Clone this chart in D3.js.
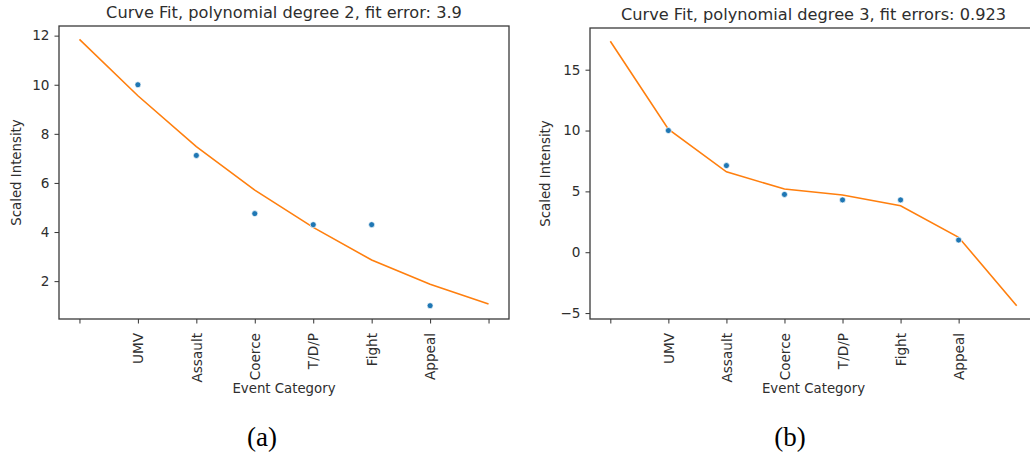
<!DOCTYPE html>
<html>
<head>
<meta charset="utf-8">
<script src="https://cdn.jsdelivr.net/npm/d3@7"></script>
<style>
  html, body { margin: 0; padding: 0; background: #fff; }
  svg { display: block; }
</style>
</head>
<body>
<svg id="fig" width="1030" height="456"></svg>
<script>
// Event categories (slots 0 and 7 are unlabeled ends of the fitted curve)
const categories = ["UMV", "Assault", "Coerce", "T/D/P", "Fight", "Appeal"];
const tickLabelsA = ["", "UMV", "Assault", "Coerce", "T/D/P", "Fight", "Appeal", ""];
const tickLabelsB = ["", "UMV", "Assault", "Coerce", "T/D/P", "Fight", "Appeal"];

// Observed scaled intensity per category (x = 1..6)
const observed = [10.0, 7.12, 4.75, 4.3, 4.3, 1.0];

// Fitted curves evaluated at x = 0..7
const fitDeg2 = [11.85, 9.55, 7.48, 5.71, 4.19, 2.86, 1.87, 1.07];
const fitDeg3 = [17.34, 10.12, 6.61, 5.19, 4.70, 3.82, 1.23, -4.40];

const yTicksA = [2, 4, 6, 8, 10, 12];
const yTicksB = [-5, 0, 5, 10, 15];

const titles = [
  "Curve Fit, polynomial degree 2, fit error: 3.9",
  "Curve Fit, polynomial degree 3, fit errors: 0.923"
];
const captions = ["(a)", "(b)"];

const SANS = "'DejaVu Sans', sans-serif";
const INK = "#2e2e2e";
const svg = d3.select("#fig");

function panel(cfg) {
  const { left, right, top, bottom, fit, xTickLabels, yTicks, title, caption, yLabelX } = cfg;
  const g = svg.append("g");

  // matplotlib-style 5% data margins
  const n = fit.length;
  const xPad = (n - 1) * 0.05;
  const x = d3.scaleLinear().domain([-xPad, n - 1 + xPad]).range([left, right]);
  const [lo, hi] = d3.extent(fit.concat(observed));
  const yPad = (hi - lo) * 0.05;
  const y = d3.scaleLinear().domain([lo - yPad, hi + yPad]).range([bottom, top]);

  // x axis
  const xAxis = d3.axisBottom(x)
    .tickValues(d3.range(xTickLabels.length))
    .tickSize(4.5).tickPadding(0)
    .tickFormat(() => "");
  const gx = g.append("g").attr("transform", `translate(0,${bottom})`).call(xAxis);
  gx.select(".domain").remove();
  gx.selectAll(".tick line").attr("stroke", "#333").attr("stroke-width", 1);
  gx.selectAll(".tick").append("text")
    .attr("transform", "translate(0,14) rotate(-90)")
    .attr("text-anchor", "end")
    .attr("dy", "0.35em")
    .style("font-family", SANS).style("font-size", "13.6px").style("fill", INK)
    .text((d, i) => xTickLabels[i]);

  // y axis
  const yAxis = d3.axisLeft(y).tickValues(yTicks).tickSize(4.5).tickPadding(5)
    .tickFormat(d => d < 0 ? "\u2212" + Math.abs(d) : String(d));
  const gy = g.append("g").attr("transform", `translate(${left},0)`).call(yAxis);
  gy.select(".domain").remove();
  gy.selectAll(".tick line").attr("stroke", "#333").attr("stroke-width", 1);
  gy.selectAll(".tick text")
    .style("font-family", SANS).style("font-size", "13.6px").style("fill", INK);

  // frame
  g.append("rect")
    .attr("x", left).attr("y", top)
    .attr("width", right - left).attr("height", bottom - top)
    .attr("fill", "none").attr("stroke", "#3a3a3a").attr("stroke-width", 1.3);

  // fitted curve
  const line = d3.line().x((d, i) => x(i)).y(d => y(d));
  g.append("path").datum(fit)
    .attr("d", line)
    .attr("fill", "none").attr("stroke", "#ff7f0e").attr("stroke-width", 1.6);

  // observed points
  g.selectAll("circle.obs").data(observed).join("circle")
    .attr("class", "obs")
    .attr("cx", (d, i) => x(i + 1)).attr("cy", d => y(d))
    .attr("r", 3).attr("fill", "#1f77b4")
    .attr("stroke", "#fff").attr("stroke-width", 0.7);

  const cx = (left + right) / 2;
  g.append("text").attr("x", cx).attr("y", top - 8)
    .attr("text-anchor", "middle")
    .style("font-family", SANS).style("font-size", "16.2px").style("fill", INK)
    .text(title);
  g.append("text").attr("x", cx).attr("y", 393)
    .attr("text-anchor", "middle")
    .style("font-family", SANS).style("font-size", "13.3px").style("fill", INK)
    .text("Event Category");
  g.append("text")
    .attr("transform", `translate(${yLabelX},${(top + bottom) / 2}) rotate(-90)`)
    .attr("text-anchor", "middle")
    .style("font-family", SANS).style("font-size", "13.3px").style("fill", INK)
    .text("Scaled Intensity");
  g.append("text").attr("x", cfg.capX).attr("y", 446)
    .attr("text-anchor", "middle")
    .style("font-family", "'Liberation Serif', serif")
    .style("font-size", "27px").style("fill", "#000")
    .text(caption);
}

panel({ left: 59, right: 509, top: 26, bottom: 319, fit: fitDeg2,
        xTickLabels: tickLabelsA, yTicks: yTicksA, title: titles[0], caption: captions[0],
        yLabelX: 21, capX: 262 });
panel({ left: 590, right: 1037, top: 28, bottom: 319, fit: fitDeg3,
        xTickLabels: tickLabelsB, yTicks: yTicksB, title: titles[1], caption: captions[1],
        yLabelX: 550, capX: 790 });
</script>
</body>
</html>
